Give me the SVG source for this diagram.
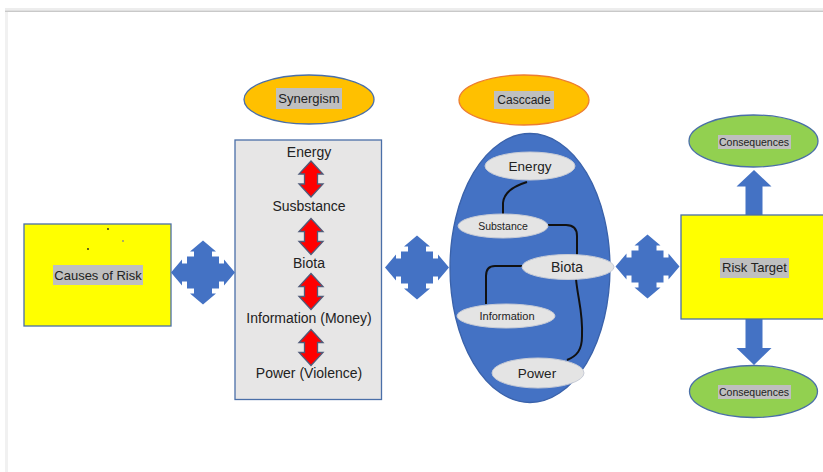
<svg xmlns="http://www.w3.org/2000/svg" width="823" height="472" viewBox="0 0 823 472">
<style>
text{font-family:"Liberation Sans",Arial,sans-serif;fill:#222;text-anchor:middle;dominant-baseline:central}
.hl{fill:#BFBFBF}
.yel{fill:#FFFF00;stroke:#4A6FA8;stroke-width:1.3}
.gold{fill:#FFC000;stroke-width:1.3}
.green{fill:#92D050;stroke:#4A6FA8;stroke-width:1.3}
.inner{fill:#E4E4E4;stroke:#C8CCD6;stroke-width:1}
.red{fill:#FF0000;stroke:#4F5B7A;stroke-width:1.3}
.quad{fill:#4472C4}
.conn{fill:none;stroke:#111;stroke-width:2}
</style>
<defs>
<path id="quad" class="quad" d="M-16,-16 L-9,-16 L-9,-21 L-13,-21 L0,-32 L13,-21 L9,-21 L9,-16 L16,-16 L16,-9 L21,-9 L21,-13 L32,0 L21,13 L21,9 L16,9 L16,16 L9,16 L9,21 L13,21 L0,32 L-13,21 L-9,21 L-9,16 L-16,16 L-16,9 L-21,9 L-21,13 L-32,0 L-21,-13 L-21,-9 L-16,-9 Z"/>
<path id="dbl" class="red" d="M0,-18 L12,-5 L6.5,-5 L6.5,5 L12,5 L0,18 L-12,5 L-6.5,5 L-6.5,-5 L-12,-5 Z"/>
</defs>
<rect width="823" height="472" fill="#FFFFFF"/>
<rect x="5" y="8" width="818" height="2.5" fill="#EDEDED"/>
<rect x="5" y="10.5" width="818" height="1.5" fill="#C9C9C9"/>
<rect x="5" y="12" width="3" height="460" fill="#F1F1F1"/>

<g id="causes">
<rect class="yel" x="24" y="224" width="147" height="102"/>
<circle cx="108" cy="229" r="0.9" fill="#222"/>
<circle cx="123" cy="241" r="0.9" fill="#888"/>
<circle cx="88" cy="249" r="0.9" fill="#222"/>
<rect class="hl" x="53" y="265" width="90" height="20"/>
<text x="98" y="275.5" font-size="13">Causes of Risk</text>
</g>

<g id="synergism-label">
<ellipse class="gold" stroke="#4A6FA8" cx="309" cy="99.5" rx="65" ry="24.5"/>
<rect class="hl" x="276" y="88" width="66" height="21"/>
<text x="309" y="98.5" font-size="13">Synergism</text>
</g>

<g id="synergism-box">
<rect x="235" y="140" width="146.5" height="259.5" fill="#E7E6E6" stroke="#4A6FA8" stroke-width="1.3"/>
<text x="309" y="152" font-size="14">Energy</text>
<text x="309" y="206" font-size="14">Susbstance</text>
<text x="309" y="262.5" font-size="14">Biota</text>
<text x="309" y="318" font-size="14">Information (Money)</text>
<text x="309" y="373" font-size="14">Power (Violence)</text>
<use href="#dbl" x="311" y="179"/>
<use href="#dbl" x="311" y="236.5"/>
<use href="#dbl" x="311" y="291.5"/>
<use href="#dbl" x="311" y="347.5"/>
</g>

<g id="cascade-label">
<ellipse class="gold" stroke="#ED7D31" cx="524" cy="100" rx="65" ry="25"/>
<rect class="hl" x="494" y="91" width="60" height="18"/>
<text x="524" y="100" font-size="12">Casccade</text>
</g>

<g id="cascade">
<ellipse cx="530" cy="268" rx="80" ry="134.5" fill="#4472C4" stroke="#3A62AA" stroke-width="1.3"/>
</g>

<g id="connectors">
<use href="#quad" x="203" y="272.5"/>
<use href="#quad" x="417" y="267.5"/>
<use href="#quad" x="647.5" y="266.5"/>
<path d="M745.5,215 L745.5,186.5 L736.5,186.5 L754,170 L771.5,186.5 L762.5,186.5 L762.5,215 Z" fill="#4472C4"/>
<path d="M745.5,319 L745.5,348 L736.5,348 L754,365 L771.5,348 L762.5,348 L762.5,319 Z" fill="#4472C4"/>
<path class="conn" d="M527,182 Q504,189 503,203 L503,215"/>
<path class="conn" d="M548,225 L566,225 Q577,225 577,236 L577,256"/>
<path class="conn" d="M523,266 L495,266 Q486,266 486,276 L486,304"/>
<path class="conn" d="M576,279 C578,300 583,312 582,336 C582,350 577,356 567,360"/>
</g>

<g id="c-energy">
<ellipse class="inner" cx="530" cy="166" rx="45" ry="14"/>
<text x="530" y="166" font-size="13.5">Energy</text>
</g>
<g id="c-substance">
<ellipse class="inner" cx="503" cy="226" rx="45" ry="12"/>
<text x="503" y="226" font-size="10.5">Substance</text>
</g>
<g id="c-biota">
<ellipse class="inner" cx="568" cy="267" rx="46" ry="12.5"/>
<text x="567" y="267" font-size="14">Biota</text>
</g>
<g id="c-information">
<ellipse class="inner" cx="506" cy="316" rx="49" ry="12"/>
<text x="507" y="316" font-size="11">Information</text>
</g>
<g id="c-power">
<ellipse class="inner" cx="538" cy="373" rx="46" ry="15"/>
<text x="537" y="373" font-size="13.5">Power</text>
</g>

<g id="risk-target">
<rect class="yel" x="681" y="215" width="150" height="104"/>
<rect class="hl" x="720" y="258" width="69" height="20"/>
<text x="754.5" y="267.5" font-size="13">Risk Target</text>
</g>

<g id="consequences-top">
<ellipse class="green" cx="753.5" cy="141" rx="64.5" ry="26"/>
<rect class="hl" x="718" y="135" width="73" height="14"/>
<text x="754" y="142" font-size="10.5">Consequences</text>
</g>
<g id="consequences-bottom">
<ellipse class="green" cx="753.5" cy="391.5" rx="64" ry="26"/>
<rect class="hl" x="718" y="385" width="73" height="14"/>
<text x="754" y="392" font-size="10.5">Consequences</text>
</g>
</svg>
